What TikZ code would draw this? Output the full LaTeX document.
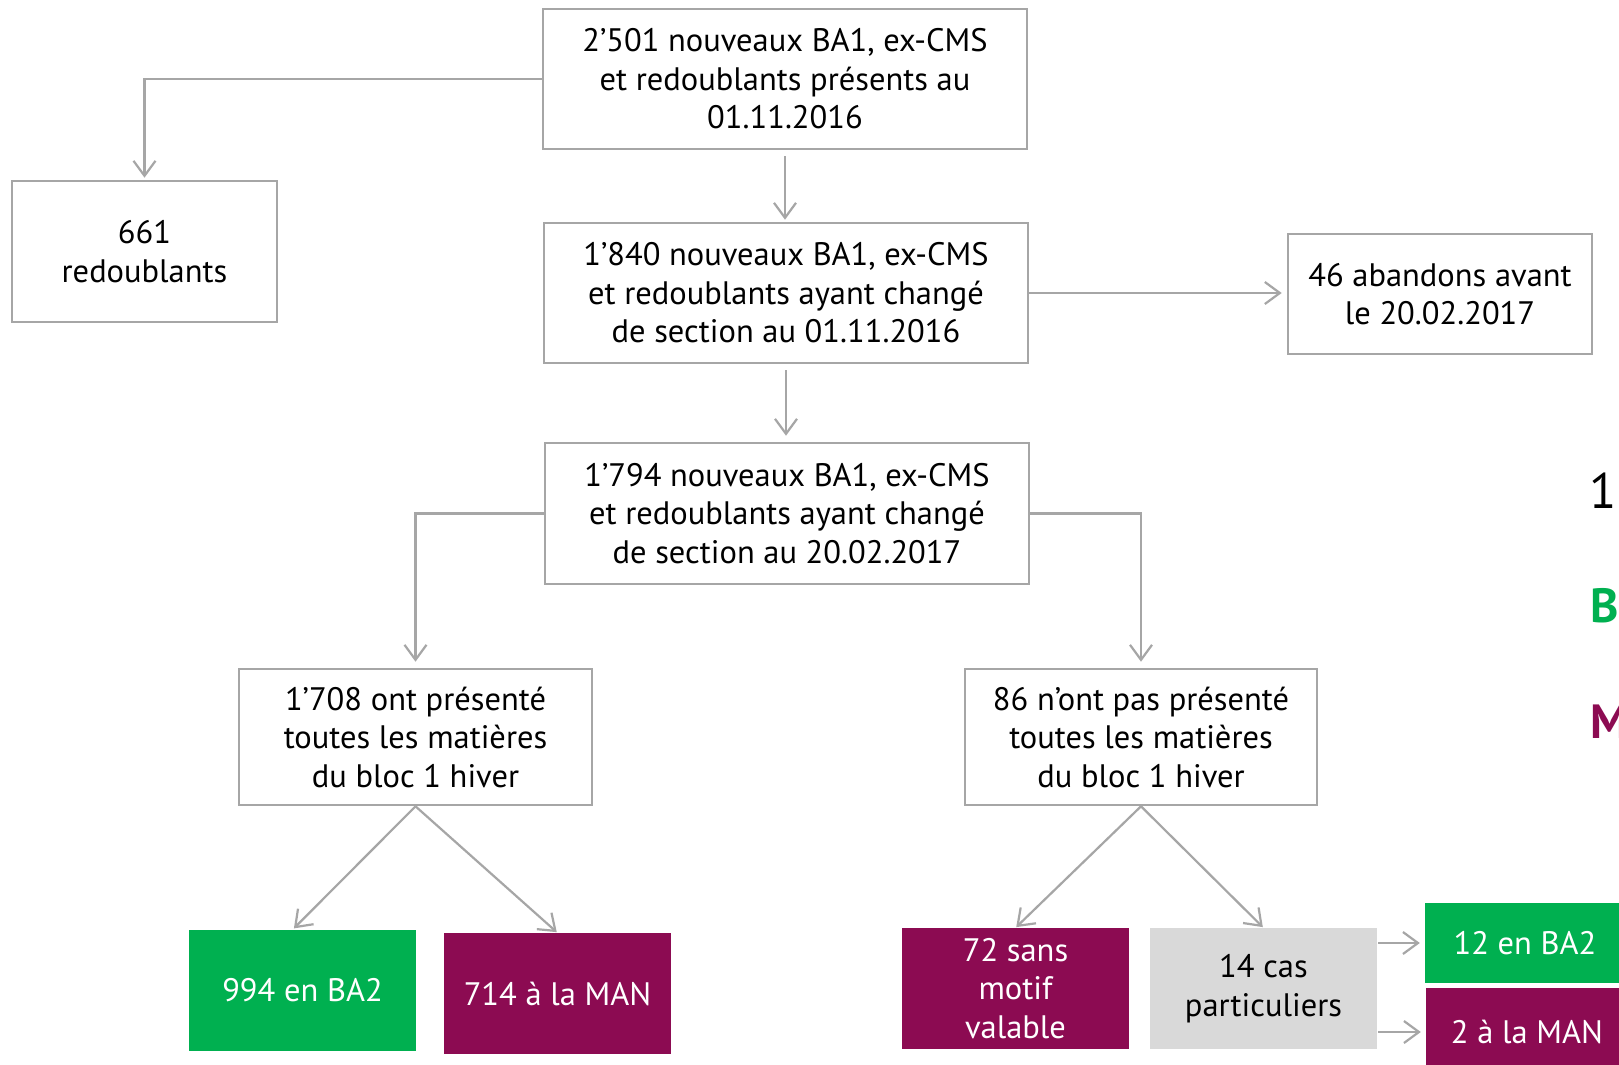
\documentclass[tikz,border=0pt]{standalone}
\usepackage{fontspec}
\setmainfont{PT Sans}
\usetikzlibrary{arrows.meta,calc}
\definecolor{lgray}{HTML}{A6A6A6}
\definecolor{mygreen}{HTML}{00B050}
\definecolor{mypurple}{HTML}{8C0B52}
\definecolor{fillgray}{HTML}{D9D9D9}
\tikzset{
  txt/.style={font=\fontsize{32.5}{38.5}\selectfont, align=center, inner sep=0pt},
  wbox/.style={txt, draw=lgray, line width=2.6pt, fill=white},
  gbox/.style={txt, fill=mygreen, text=white},
  pbox/.style={txt, fill=mypurple, text=white},
  cbox/.style={txt, fill=fillgray, text=black},
  arr/.style={draw=lgray, line width=2.2pt, -{Straight Barb[length=15pt,width=22pt]}},
}
\begin{document}
\begin{tikzpicture}[x=1pt,y=-1pt]
\useasboundingbox[fill=white] (0,0) rectangle (1619,1065);
% main boxes
\node[wbox, minimum width=484pt, minimum height=140pt] (A) at (785,79)
  {2’501 nouveaux BA1, ex-CMS\\et redoublants présents au\\01.11.2016};
\node[wbox, minimum width=265pt, minimum height=141pt] (R) at (144.5,251.5)
  {661\\redoublants};
\node[wbox, minimum width=484pt, minimum height=140pt] (B) at (786,293)
  {1’840 nouveaux BA1, ex-CMS\\et redoublants ayant changé\\de section au 01.11.2016};
\node[wbox, minimum width=304pt, minimum height=120pt] (Ab) at (1440,294)
  {46 abandons avant\\le 20.02.2017};
\node[wbox, minimum width=484pt, minimum height=141pt] (C) at (787,513.5)
  {1’794 nouveaux BA1, ex-CMS\\et redoublants ayant changé\\de section au 20.02.2017};
\node[wbox, minimum width=353pt, minimum height=136pt] (D) at (415.5,737)
  {1’708 ont présenté\\toutes les matières\\du bloc 1 hiver};
\node[wbox, minimum width=352pt, minimum height=136pt] (E) at (1141,737)
  {86 n’ont pas présenté\\toutes les matières\\du bloc 1 hiver};
% result boxes
\node[gbox, minimum width=227pt, minimum height=121pt] (G994) at (302.5,990.5) {994 en BA2};
\node[pbox, minimum width=227pt, minimum height=121pt] (P714) at (557.5,993.5) {714 à la MAN};
\node[pbox, minimum width=227pt, minimum height=121pt] (P72) at (1015.5,988.5) {72 sans\\motif\\valable};
\node[cbox, minimum width=227pt, minimum height=121pt] (Gr14) at (1263.5,988.5) {14 cas\\particuliers};
\node[gbox, minimum width=200pt, minimum height=80pt] (G12) at (1525,943) {12 en BA2};
\node[pbox, minimum width=202pt, minimum height=88pt] (P2) at (1527,1032) {2 à la MAN};
% cut-off labels at the right edge
\node[anchor=base west, inner sep=0pt, font=\fontsize{50}{60}\selectfont] (one) at (1589,508) {1};
\node[anchor=base west, inner sep=0pt, text=mygreen, font=\bfseries\fontsize{48}{58}\selectfont] (bl) at (1590,622) {B};
\node[anchor=base west, inner sep=0pt, text=mypurple, font=\bfseries\fontsize{48}{58}\selectfont] (ml) at (1590,738) {M};
% connectors
\draw[arr, shorten >=2pt] (A.west) -| (R.north);
\draw[arr, shorten <=6pt, shorten >=2pt] (A.south) -- (A.south |- B.north);
\draw[arr, shorten >=5pt] (B.east) -- (B.east -| Ab.west);
\draw[arr, shorten <=6pt, shorten >=6pt] (B.south) -- (B.south |- C.north);
\draw[arr, shorten >=6pt] (C.west) -| (D.north);
\draw[arr, shorten >=6pt] (C.east) -| (E.north);
\draw[arr, shorten >=2pt] (D.south) -- ([xshift=-10pt]G994.north);
\draw[arr, shorten >=1pt] (D.south) -- (P714.north);
\draw[arr, shorten >=1pt] (E.south) -- (P72.north);
\draw[arr, shorten >=1pt] (E.south) -- (Gr14.north);
\draw[arr, shorten <=1pt, shorten >=5pt] (Gr14.east |- G12.west) -- (G12.west);
\draw[arr, shorten <=1pt, shorten >=5pt] (Gr14.east |- P2.west) -- (P2.west);
\end{tikzpicture}
\end{document}
